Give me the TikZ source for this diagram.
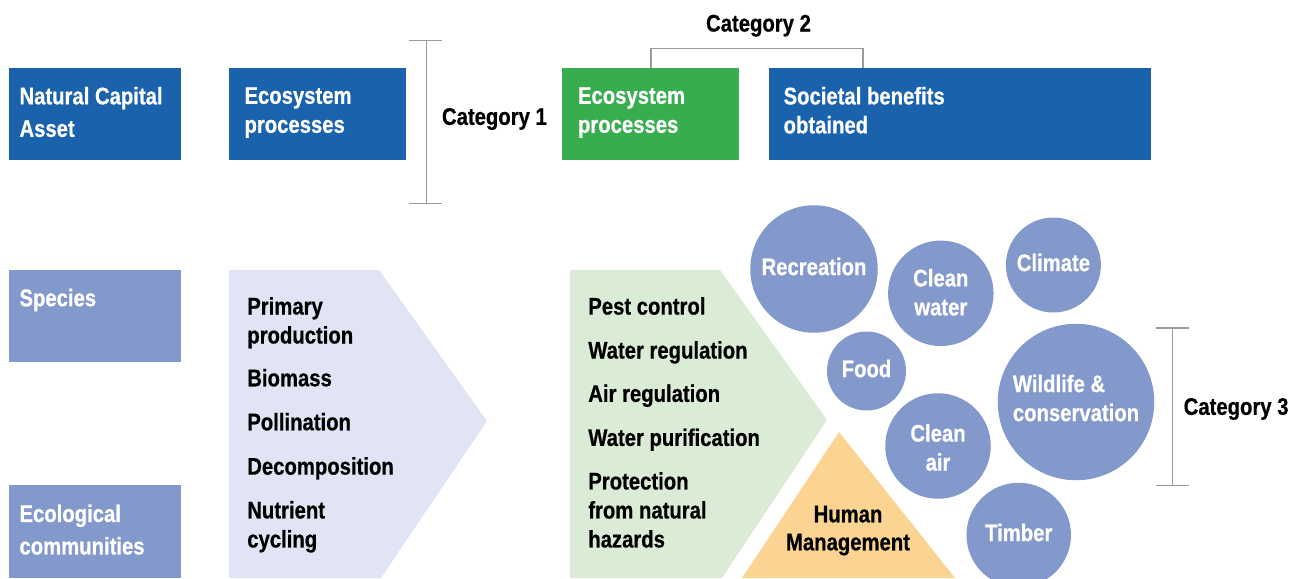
\documentclass[tikz,border=0pt]{standalone}
\usepackage{fontspec}
\setmainfont{Liberation Sans}[FakeStretch=0.845, BoldFeatures={FakeBold=0.6}]
\definecolor{darkblue}{RGB}{27,98,172}
\definecolor{midgreen}{RGB}{55,173,80}
\definecolor{peri}{RGB}{131,153,204}
\definecolor{lav}{RGB}{225,228,245}
\definecolor{lgreen}{RGB}{218,235,214}
\definecolor{mgmt}{RGB}{252,212,145}
\definecolor{brk}{RGB}{155,155,155}
\newcommand{\lblfont}{\fontsize{24}{29}\selectfont\bfseries}
\tikzset{
  boxnode/.style={rectangle, inner sep=0pt, outer sep=0pt, anchor=north west, fill=#1},
  lbl/.style={font=\lblfont, inner sep=0pt, outer sep=0pt, anchor=west, align=left, text=black},
  wlbl/.style={lbl, text=white},
  bubble/.style={circle, fill=peri, inner sep=0pt, outer sep=0pt, minimum size=#1},
  btext/.style={lbl, anchor=center, align=center, text=white, yshift=2.5pt},
  brack/.style={draw=brk, line width=1.3pt}
}
\begin{document}
\begin{tikzpicture}[x=1pt,y=-1pt]
\useasboundingbox (0,0) rectangle (1292,578);

% ---- top row boxes
\node[boxnode=darkblue, minimum width=172pt, minimum height=92pt] (nca) at (9,68) {};
\node[boxnode=darkblue, minimum width=177pt, minimum height=92pt] (eco1) at (229,68) {};
\node[boxnode=midgreen, minimum width=177pt, minimum height=92pt] (eco2) at (562,68) {};
\node[boxnode=darkblue, minimum width=382pt, minimum height=92pt] (soc) at (769,68) {};

\node[wlbl, font=\fontsize{24}{32.5}\selectfont\bfseries] (tnca) at (19.5,112) {Natural Capital\\Asset};
\node[wlbl] (teco1) at (244.5,112.5) {Ecosystem\\processes};
\node[wlbl] (teco2) at (578,112.5) {Ecosystem\\processes};
\node[wlbl] (tsoc) at (783.6,110.3) {Societal benefits\\obtained};

% ---- category brackets
\coordinate (c1t) at (426.5,40.7);
\coordinate (c1b) at (426.5,203.7);
\draw[brack] (c1t) -- (c1b);
\draw[brack] ([xshift=-17.5pt]c1t) -- ([xshift=15.5pt]c1t);
\draw[brack] ([xshift=-17.5pt]c1b) -- ([xshift=15.5pt]c1b);
\node[lbl] (cat1) at (442,119) {Category 1};

\coordinate (c2a) at (651,68);
\coordinate (c2b) at (863,68);
\draw[brack] (c2a) -- ++(0,-19.7) -| (c2b);
\node[lbl, anchor=center] (cat2) at (758.5,25.7) {Category 2};

\coordinate (c3t) at (1172.4,328);
\coordinate (c3b) at (1172.4,485.3);
\draw[brack] (c3t) -- (c3b);
\draw[brack] ([xshift=-16pt]c3t) -- ([xshift=17pt]c3t);
\draw[brack] ([xshift=-16pt]c3b) -- ([xshift=17pt]c3b);
\node[lbl] (cat3) at (1183.7,409) {Category 3};

% ---- left boxes
\node[boxnode=peri, minimum width=172pt, minimum height=92pt] (species) at (9,270) {};
\node[boxnode=peri, minimum width=172pt, minimum height=93pt] (ecocom) at (9,485) {};
\node[wlbl] (tspecies) at (19.5,300) {Species};
\node[wlbl, font=\fontsize{24}{32.5}\selectfont\bfseries] (tecocom) at (19.5,529.6) {Ecological\\communities};

% ---- chevrons
\fill[lav] (229,270) -- (379,270) -- (487,421) -- (381,578) -- (229,578) -- cycle;
\fill[lgreen] (570,270) -- (720,270) -- (827,420) -- (722,578) -- (570,578) -- cycle;
\fill[mgmt] (839,432) -- (955,578) -- (742,578) -- cycle;

% ---- process list
\node[lbl] (pp) at (247.3,322.8) {Primary\\production};
\node[lbl] (bio) at (247.3,377.7) {Biomass};
\node[lbl] (pol) at (247.3,421.7) {Pollination};
\node[lbl] (dec) at (247.3,468.4) {Decomposition};
\node[lbl] (nut) at (247.3,526.8) {Nutrient\\cycling};

% ---- service list
\node[lbl] (pest) at (588.3,306) {Pest control};
\node[lbl] (wreg) at (588.3,352.4) {Water regulation};
\node[lbl] (areg) at (588.3,395.7) {Air regulation};
\node[lbl] (wpur) at (588.3,439.7) {Water purification};
\node[lbl] (prot) at (588.3,509.9) {Protection\\from natural\\hazards};

\node[lbl, anchor=center, align=center, font=\fontsize{24}{28}\selectfont\bfseries] (hm) at (848,530.6) {Human\\Management};

% ---- benefit bubbles
\node[bubble=127.5pt] (rec) at (814,269) {};
\node[bubble=105.5pt] (cw) at (940.8,293.3) {};
\node[bubble=95pt] (cli) at (1053.4,265) {};
\node[bubble=79pt] (food) at (866.5,371) {};
\node[bubble=156.5pt] (wild) at (1076,402) {};
\node[bubble=105.5pt] (ca) at (938,446) {};
\node[bubble=104.5pt] (tim) at (1018.7,535) {};

\node[btext] (trec) at (rec) {Recreation};
\node[btext, yshift=-1.5pt] (tcw) at (cw) {Clean\\water};
\node[btext] (tcli) at (cli) {Climate};
\node[btext] (tfood) at (food) {Food};
\node[btext, align=left, yshift=1.5pt] (twild) at (wild) {Wildlife \&\\conservation};
\node[btext, yshift=-4pt] (tca) at (ca) {Clean\\air};
\node[btext] (ttim) at (tim) {Timber};
\end{tikzpicture}
\end{document}
